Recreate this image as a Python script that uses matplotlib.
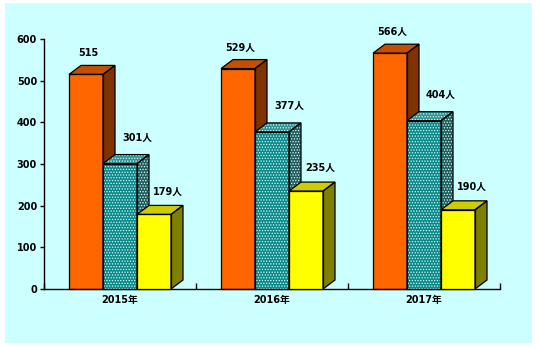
import matplotlib.pyplot as plt
from matplotlib.patches import Polygon, Rectangle

plt.rcParams['font.family'] = ['DejaVu Sans', 'Noto Sans CJK SC']
plt.rcParams['hatch.linewidth'] = 0.6

years = ['2015年', '2016年', '2017年']
series_a = [515, 529, 566]
series_b = [301, 377, 404]
series_c = [179, 235, 190]
labels_a = ['515', '529人', '566人']
labels_b = ['301人', '377人', '404人']
labels_c = ['179人', '235人', '190人']

W, H = 538, 348
fig = plt.figure(figsize=(W / 100, H / 100), dpi=100, facecolor='white')
fig.patches.append(Rectangle((5 / W, 5 / H), 527 / W, 340 / H, transform=fig.transFigure,
                             facecolor='#CCFFFF', edgecolor='none', zorder=-5))

ax_l, ax_b, ax_w, ax_h = 44, 59, 456, 250
ax = fig.add_axes([ax_l / W, ax_b / H, ax_w / W, ax_h / H])
ax.set_facecolor('none')
ax.set_xlim(0, 3)
ax.set_ylim(0, 600)

# depth of the 3d boxes, given in pixels
dx = 12 * 3 / ax_w
dy = 9 * 600 / ax_h
bw = 34 * 3 / ax_w

styles = [
    dict(front='#FF6600', top='#C44F00', side='#7F3300', hatch=None, lx=2, ly=21),
    dict(front='#0A8A8A', top='#2E9494', side='#1F5F5F', hatch='......', lx=17, ly=26),
    dict(front='#FFFF00', top='#CCCC00', side='#808000', hatch=None, lx=14, ly=23),
]


def box(x0, h, st, z):
    x1 = x0 + bw
    faces = [
        ([(x0, 0), (x1, 0), (x1, h), (x0, h)], st['front']),
        ([(x0, h), (x1, h), (x1 + dx, h + dy), (x0 + dx, h + dy)], st['top']),
        ([(x1, 0), (x1 + dx, dy), (x1 + dx, h + dy), (x1, h)], st['side']),
    ]
    for pts, col in faces:
        ax.add_patch(Polygon(pts, closed=True, facecolor=col, edgecolor='none', zorder=z))
        if st['hatch']:
            ax.add_patch(Polygon(pts, closed=True, facecolor='none', edgecolor='#D8F4F4',
                                 hatch=st['hatch'], linewidth=0, zorder=z + 0.1))
        ax.add_patch(Polygon(pts, closed=True, facecolor='none', edgecolor='black',
                             linewidth=0.9, zorder=z + 0.2, clip_on=False))


for i in range(len(years)):
    start = i + 0.5 - 1.5 * bw
    for j, (vals, labs) in enumerate([(series_a, labels_a), (series_b, labels_b),
                                      (series_c, labels_c)]):
        st = styles[j]
        x0 = start + j * bw
        box(x0, vals[i], st, 2 + j)
        ax.annotate(labs[i], (x0 + bw / 2, vals[i]), xytext=(st['lx'], st['ly']),
                    textcoords='offset pixels', ha='center', va='center',
                    fontsize=7, fontweight='bold', zorder=10)

ax.spines['top'].set_visible(False)
ax.spines['right'].set_visible(False)
ax.spines['left'].set_linewidth(1)
ax.spines['bottom'].set_linewidth(1)

ax.set_yticks(range(0, 601, 100))
ax.tick_params(axis='y', direction='out', length=3, width=1, pad=2, labelsize=7)
for t in ax.get_yticklabels():
    t.set_fontweight('bold')

ax.set_xticks([0, 1, 2, 3])
ax.set_xticklabels([])
ax.tick_params(axis='x', which='major', direction='in', length=4, width=1)
ax.set_xticks([0.5, 1.5, 2.5], minor=True)
ax.set_xticklabels(years, minor=True, fontsize=7, fontweight='bold')
ax.tick_params(axis='x', which='minor', length=0, pad=4)

fig.savefig('out.png', dpi=100, facecolor='white')
